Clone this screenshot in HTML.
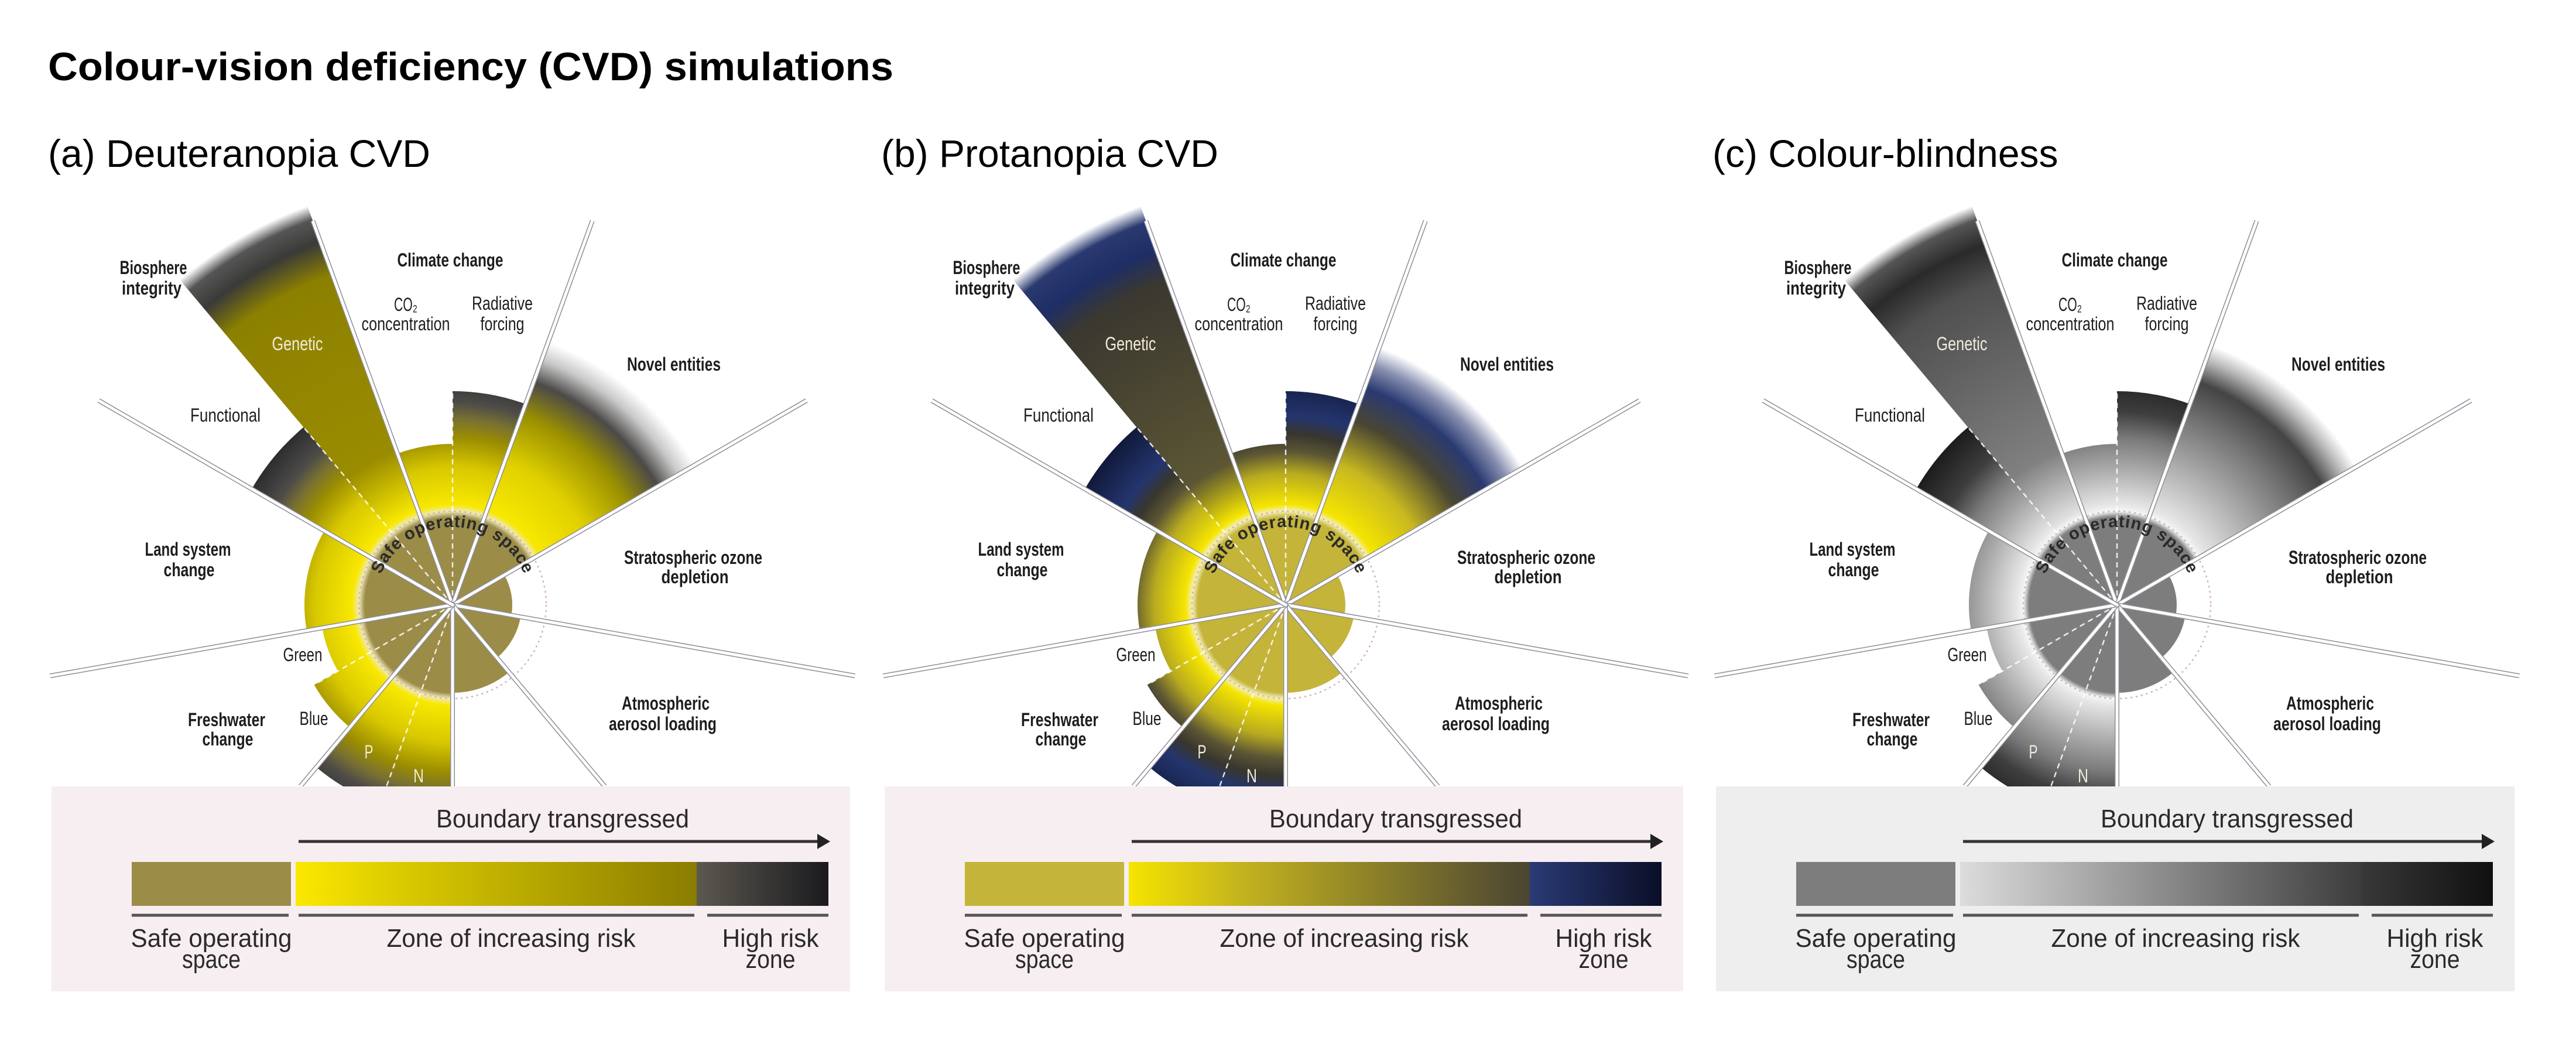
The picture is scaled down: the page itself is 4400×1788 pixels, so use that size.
<!DOCTYPE html>
<html><head><meta charset="utf-8">
<style>
html,body{margin:0;padding:0;background:#fff;}
svg{display:block;}
text{font-family:"Liberation Sans Narrow","Liberation Sans",sans-serif;}
</style></head>
<body>
<svg id="fig" xmlns="http://www.w3.org/2000/svg" width="4400" height="1788" viewBox="0 0 4400 1788">
<rect x="0" y="0" width="4400" height="1788" fill="#ffffff"/>
<text x="82" y="137" font-size="68" font-weight="bold" fill="#000" textLength="1444" lengthAdjust="spacingAndGlyphs" style="font-family:'Liberation Sans',sans-serif">Colour-vision deficiency (CVD) simulations</text>
</svg>
<script>
// ---- data ----
const wedgeNames = ['co2-concentration','radiative-forcing','novel-entities','stratospheric-ozone','aerosol-loading','ocean-acidification','nitrogen','phosphorus','blue-water','green-water','land-system','functional','genetic'];
const wedgeStart = [340, 0, 20, 60, 100, 140, 180, 200, 220, 240, 260, 300, 320];
const wedgeEnd   = [360, 20, 60, 100, 140, 180, 200, 220, 240, 260, 300, 320, 340];
const wedgeRadius = [275, 365, 480, 102, 118, 150, 420, 362, 273, 226, 253, 396, 725];
const wedgeKind = ['std','std','novel','std','std','std','std','std','std','std','std','std','genetic'];
const boundaryRadius = 160;
const rayAngles = [340, 20, 60, 100, 140, 180, 220, 260, 300];
const dividerAngles = [0, 320, 240, 200];
const dividerLengths = [365, 396, 268, 420];
const panelTitles = ['(a) Deuteranopia CVD', '(b) Protanopia CVD', '(c) Colour-blindness'];

const labelText = ['Biosphere','integrity','Climate change','CO\u2082','concentration','Radiative','forcing','Genetic','Novel entities','Functional','Land system','change','Stratospheric ozone','depletion','Green','Freshwater','change','Blue','Atmospheric','aerosol loading','P','N'];
const labelX = [262,259,769,693,693,858,858,508,1151,385,321,323,1184,1187,517,387,389,536,1137,1132,630,715];
const labelY = [468,503,455,531,564,529,564,598,633,720,949,984,963,996,1129,1240,1273,1238,1212,1247,1295,1336];
const labelW = [115,102,181,40,151,104,75,87,160,120,147,87,236,115,67,132,87,49,150,184,15,18];
const labelBold = [1,1,1,0,0,0,0,0,1,0,1,1,1,1,0,1,1,0,1,1,0,0];
const labelLight = [0,0,0,0,0,0,0,1,0,0,0,0,0,0,0,0,0,0,0,0,1,1];

// ---- styles per panel ----
const NS='http://www.w3.org/2000/svg';
const svg=document.getElementById('fig');
const CY=1033, C0=773, PANEL_DX=[0,1423,2843], GR=730, BOX_TOP=1343;
const panels=[
 {safe:'#9b8c48', box:'#f7eef1',
  std:[[150,'#9b8c48'],[160,'#efe8b8'],[172,'#f8e800'],[235,'#d8c800'],[285,'#9c8e00'],[318,'#787032'],[345,'#4e4c48'],[400,'#2a2a2e'],[730,'#2a2a2e']],
  novel:[[150,'#9b8c48'],[160,'#efe8b8'],[172,'#f8e800'],[260,'#e0d000'],[345,'#9a9000'],[405,'#4c4a48'],[445,'#c8c8c8'],[478,'#ffffff'],[730,'#ffffff']],
  genetic:[[150,'#9b8c48'],[160,'#efe8b8'],[172,'#f8e800'],[280,'#9a8c00'],[600,'#8c8000'],[660,'#3a3a38'],[700,'#555555'],[725,'#ffffff'],[730,'#ffffff']],
  zone:[['0','#fbe800'],['0.3','#d6c600'],['1','#8a7c00']], high:[['0','#5c5850'],['1','#1a1a1e']]},
 {safe:'#c4b43a', box:'#f7eef1',
  std:[[150,'#c4b43a'],[160,'#f4eebb'],[172,'#f5e500'],[225,'#b8aa20'],[262,'#5c5634'],[292,'#38362e'],[322,'#24356e'],[400,'#101838'],[730,'#101838']],
  novel:[[150,'#c4b43a'],[160,'#f4eebb'],[172,'#f5e500'],[255,'#c8b820'],[335,'#4a4632'],[395,'#2a3a72'],[435,'#8890b0'],[468,'#ffffff'],[730,'#ffffff']],
  genetic:[[150,'#c4b43a'],[160,'#f4eebb'],[172,'#f5e500'],[260,'#5c5634'],[590,'#3a3830'],[645,'#1e2e66'],[695,'#2a3a70'],[725,'#ffffff'],[730,'#ffffff']],
  zone:[['0','#f6e400'],['0.3','#c0b020'],['1','#4a4432']], high:[['0','#2a3a74'],['1','#0a0e28']]},
 {safe:'#7d7d7d', box:'#eeeeee',
  std:[[150,'#7d7d7d'],[160,'#f6f6f6'],[172,'#e6e6e6'],[235,'#a8a8a8'],[285,'#7a7a7a'],[330,'#3e3e3e'],[400,'#1a1a1a'],[730,'#1a1a1a']],
  novel:[[150,'#7d7d7d'],[160,'#f6f6f6'],[172,'#e6e6e6'],[335,'#777777'],[405,'#444444'],[445,'#bbbbbb'],[472,'#ffffff'],[730,'#ffffff']],
  genetic:[[150,'#7d7d7d'],[160,'#f6f6f6'],[172,'#e0e0e0'],[280,'#808080'],[590,'#505050'],[655,'#2a2a2a'],[700,'#555555'],[725,'#ffffff'],[730,'#ffffff']],
  zone:[['0','#dcdcdc'],['1','#3c3c3c']], high:[['0','#383838'],['1','#101010']]}
];

function mk(tag,attrs,parent){const e=document.createElementNS(NS,tag);for(const k in attrs)e.setAttribute(k,attrs[k]);(parent||svg).appendChild(e);return e;}
function pt(cx,r,a){const t=a*Math.PI/180;return [cx+r*Math.sin(t),CY-r*Math.cos(t)];}
function sector(cx,r,a0,a1){const p0=pt(cx,r,a0),p1=pt(cx,r,a1);return `M${cx},${CY} L${p0[0]},${p0[1]} A${r},${r} 0 0 1 ${p1[0]},${p1[1]} Z`;}
function rayLen(a){const c=Math.cos(a*Math.PI/180);return c< -0.01?Math.min(698,(BOX_TOP-CY)/(-c)):698;}

const defs=mk('defs',{});
panels.forEach((P,pi)=>{
  const cx=C0+PANEL_DX[pi], dx=PANEL_DX[pi];
  const g=mk('g',{});
  
  
  ['std','novel','genetic'].forEach(k=>{
    const rg=mk('radialGradient',{id:`g${pi}${k}`,gradientUnits:'userSpaceOnUse',cx:cx,cy:CY,r:GR},defs);
    P[k].forEach(s=>mk('stop',{offset:(s[0]/GR).toFixed(4),'stop-color':s[1]},rg));
  });
  const t=mk('text',{x:82+dx,y:285,'font-size':66,fill:'#000',style:"font-family:'Liberation Sans',sans-serif"},g);
  t.textContent=panelTitles[pi];
  
  
  for(let i=0;i<wedgeNames.length;i++){
    const r=wedgeRadius[i];
    const fill = r<=boundaryRadius ? P.safe : `url(#g${pi}${wedgeKind[i]})`;
    const w=mk('path',{d:sector(cx,r,wedgeStart[i],wedgeEnd[i]),fill:fill},g);
    
    
  }
  const bc=mk('circle',{cx:cx,cy:CY,r:boundaryRadius,fill:'none',stroke:'#d0b0b8','stroke-width':2.5,'stroke-dasharray':'3 6'},g);
  
  
  dividerAngles.forEach((a,i)=>{
    const p=pt(cx,Math.min(dividerLengths[i],rayLen(a)),a);
    const l=mk('line',{x1:cx,y1:CY,x2:p[0],y2:p[1],stroke:'#ffffff','stroke-width':2.5,'stroke-dasharray':'9 7',opacity:0.85},g);
    
    
  });
  rayAngles.forEach(a=>{
    const p=pt(cx,rayLen(a),a);
    const l1=mk('line',{x1:cx,y1:CY,x2:p[0],y2:p[1],stroke:'#8e8e98','stroke-width':8},g);
    
    
    const l2=mk('line',{x1:cx,y1:CY,x2:p[0],y2:p[1],stroke:'#ffffff','stroke-width':5},g);
    
    
  });
  const ap=mk('path',{id:`arc${pi}`,d:`M${cx-133},${CY} A133,133 0 0 1 ${cx+133},${CY}`,fill:'none'},defs);
  const st=mk('text',{'font-size':29,fill:'#2a2a2a','font-weight':'bold','letter-spacing':1,style:"font-family:'Liberation Sans',sans-serif"},g);
  
  
  const tp=mk('textPath',{href:`#arc${pi}`,startOffset:'50%','text-anchor':'middle'},st);
  tp.textContent='Safe operating space';
  labelText.forEach((s,i)=>{
    const lt=mk('text',{x:labelX[i]+dx,y:labelY[i],'font-size':32,'text-anchor':'middle',fill:labelLight[i]?'#f0ecd8':'#1e1e1e','font-weight':labelBold[i]?'bold':'normal',textLength:labelW[i],lengthAdjust:'spacingAndGlyphs'},g);
    lt.textContent=s;
    
    
  });
  const box=mk('rect',{x:88+dx,y:BOX_TOP,width:1364,height:350,fill:P.box},g);
  
  
  const lz=mk('linearGradient',{id:`lz${pi}`,x1:0,y1:0,x2:1,y2:0},defs);
  P.zone.forEach(s=>mk('stop',{offset:s[0],'stop-color':s[1]},lz));
  const lh=mk('linearGradient',{id:`lh${pi}`,x1:0,y1:0,x2:1,y2:0},defs);
  P.high.forEach(s=>mk('stop',{offset:s[0],'stop-color':s[1]},lh));
  const b1=mk('rect',{x:225+dx,y:1472,width:272,height:75,fill:P.safe},g);
  
  
  const b2=mk('rect',{x:505+dx,y:1472,width:686,height:75,fill:`url(#lz${pi})`},g);
  
  
  const b3=mk('rect',{x:1190+dx,y:1472,width:225,height:75,fill:`url(#lh${pi})`},g);
  
  
  const ar=mk('line',{x1:510+dx,y1:1437,x2:1400+dx,y2:1437,stroke:'#333','stroke-width':5},g);
  
  
  const ah=mk('path',{d:`M${1396+dx},${1424} L${1418+dx},${1437} L${1396+dx},${1450} Z`,fill:'#222'},g);
  
  
  [[225,493],[510,1186],[1208,1415]].forEach(s=>{
    const u=mk('line',{x1:s[0]+dx,y1:1563,x2:s[1]+dx,y2:1563,stroke:'#555','stroke-width':5},g);
    
    
  });
  [['Boundary transgressed',961,1413,432],['Safe operating',361,1617,275],['space',361,1653,100],['Zone of increasing risk',873,1617,425],['High risk',1316,1617,165],['zone',1316,1653,85]].forEach(s=>{
    const lt=mk('text',{x:s[1]+dx,y:s[2],'font-size':44,'text-anchor':'middle',fill:'#2a2a2a',textLength:s[3],lengthAdjust:'spacingAndGlyphs'},g);
    lt.textContent=s[0];
    
    
  });
});
</script>
</body></html>
